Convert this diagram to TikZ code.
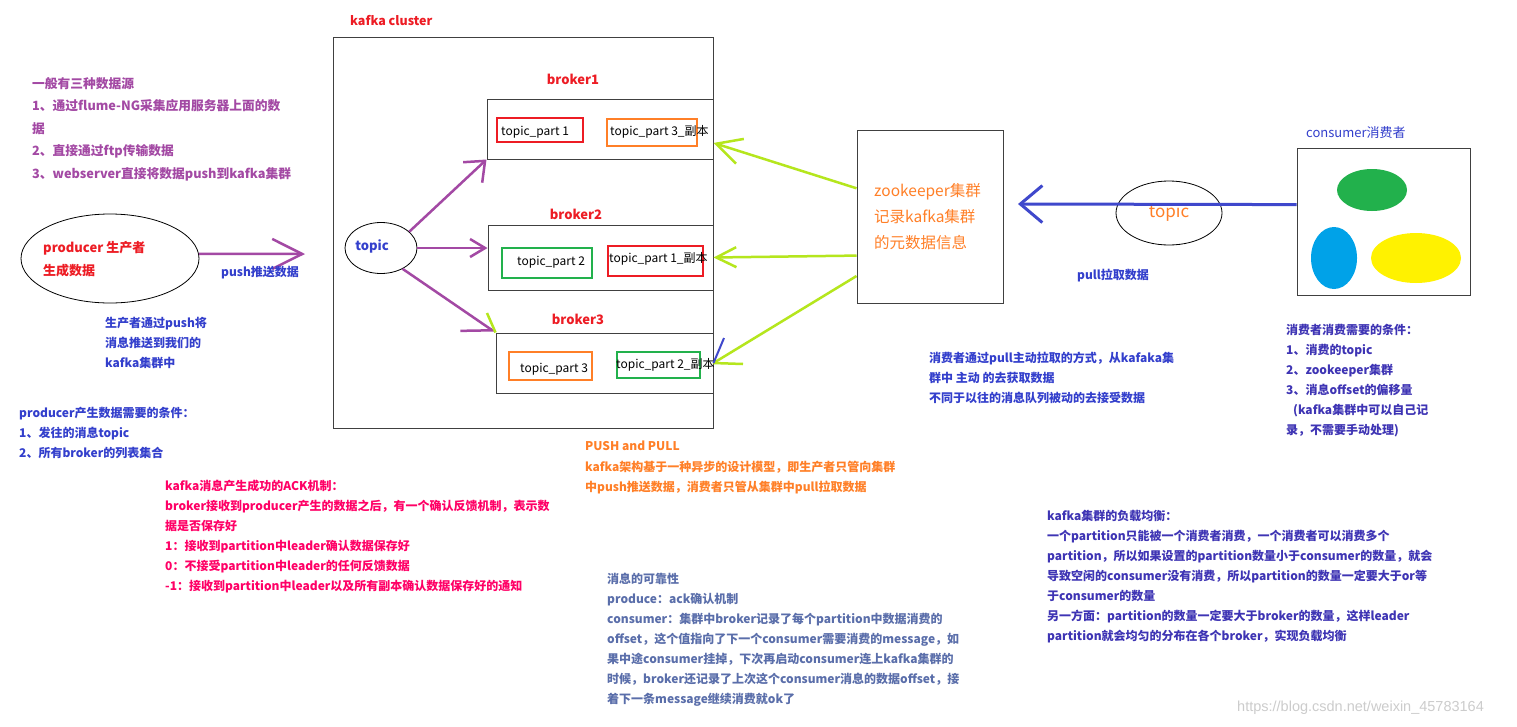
\documentclass[tikz,border=0pt]{standalone}
\usepackage{fontspec}
\setmainfont{Noto Sans CJK SC}
\newfontfamily\wmfont{Liberation Sans}
\usetikzlibrary{arrows.meta}
\usetikzlibrary{shapes.geometric}
\definecolor{kpurple}{RGB}{163,73,164}
\definecolor{kred}{RGB}{237,28,36}
\definecolor{korange}{RGB}{255,127,39}
\definecolor{kgreen}{RGB}{34,177,76}
\definecolor{klime}{RGB}{181,230,29}
\definecolor{kindigo}{RGB}{63,72,204}
\definecolor{kblue}{RGB}{51,63,204}
\definecolor{knavy}{RGB}{62,52,180}
\definecolor{kcyan}{RGB}{0,162,232}
\definecolor{kyellow}{RGB}{255,242,0}
\definecolor{kmagenta}{RGB}{255,0,102}
\definecolor{kslate}{RGB}{90,110,170}
\tikzset{boxline/.style={rectangle,draw=black!75,line width=1pt,inner sep=0pt}}
\tikzset{partbox/.style={rectangle,line width=2.5pt,inner sep=0pt}}
\tikzset{parttext/.style={anchor=west,inner sep=0pt,font=\fontsize{12}{14}\selectfont}}
\tikzset{title/.style={inner sep=0pt,text=kred,font=\bfseries\fontsize{13}{15}\selectfont}}
\tikzset{lab/.style={anchor=west,inner sep=0pt,font=\bfseries\fontsize{12}{15}\selectfont}}
\tikzset{note/.style={anchor=north west,inner sep=0pt,align=left,font=\bfseries\fontsize{12}{20}\selectfont}}
\tikzset{oval/.style={ellipse,draw,line width=0.8pt,inner sep=0pt}}
\tikzset{blob/.style={ellipse,draw=none,inner sep=0pt}}
\tikzset{purplearrow/.style={draw=kpurple,line width=2.5pt,-{Straight Barb[length=17pt,width=28pt]}}}
\tikzset{limearrow/.style={draw=klime,line width=2.5pt,-{Straight Barb[length=22pt,width=24pt]}}}
\tikzset{pullarrow/.style={draw=kindigo,line width=3pt,-{Straight Barb[length=22pt,width=37pt]}}}

\begin{document}
\begin{tikzpicture}[x=1pt,y=-1pt]
\useasboundingbox[fill=white] (0,0) rectangle (1517,726);

\node[note,text=kpurple,font=\bfseries\fontsize{12.75}{22.5}\selectfont] (srcs) at (32,77)
  {一般有三种数据源\\1、通过flume-NG采集应用服务器上面的数\\据\\2、直接通过ftp传输数据\\3、webserver直接将数据push到kafka集群};

\node[oval,minimum width=178,minimum height=89] (prod) at (110,258.5) {};
\node[note,text=kred,font=\bfseries\fontsize{13}{23}\selectfont] (prodtxt) at (43,241.5) {producer 生产者\\生成数据};
\coordinate (pushend) at (305,254);
\draw[purplearrow,-{Straight Barb[length=30pt,width=30pt]}] (prod.3) -- (pushend);
\node[lab,text=kblue] (pushlab) at (221,273) {push推送数据};

\node[note,text=kblue] (pushnote) at (105,316.5) {生产者通过push将\\消息推送到我们的\\kafka集群中};
\node[note,text=kblue] (prodcond) at (19,406.5) {producer产生数据需要的条件：\\1、发往的消息topic\\2、所有broker的列表集合};
\node[note,text=kmagenta] (ack) at (165,479.5)
  {kafka消息产生成功的ACK机制：\\broker接收到producer产生的数据之后，有一个确认反馈机制，表示数\\据是否保存好\\1：接收到partition中leader确认数据保存好\\0：不接受partition中leader的任何反馈数据\\-1：接收到partition中leader以及所有副本确认数据保存好的通知};

\node[boxline,minimum width=380,minimum height=391] (cl) at (523,232.5) {};
\node[title,anchor=west,font=\bfseries\fontsize{12.5}{15}\selectfont] (cltitle) at (350,21) {kafka cluster};

\node[boxline,minimum width=226,minimum height=60] (b1) at (600,129) {};
\node[boxline,minimum width=225,minimum height=65] (b2) at (600.5,257.5) {};
\node[boxline,minimum width=217,minimum height=60] (b3) at (604.5,363) {};
\node[title] (b1lab) at (573,79) {broker1};
\node[title] (b2lab) at (576,214) {broker2};
\node[title] (b3lab) at (578,319) {broker3};

\node[partbox,draw=kred,minimum width=86,minimum height=24] (p11) at (540,130) {};
\node[parttext] (p11txt) at (501,132) {topic\_part 1};
\node[partbox,draw=korange,minimum width=90,minimum height=27] (p13) at (652,132.5) {};
\node[parttext] (p13txt) at (610,132) {topic\_part 3\_副本};
\node[partbox,draw=kgreen,minimum width=90,minimum height=30] (p22) at (547,263) {};
\node[parttext] (p22txt) at (517,262) {topic\_part 2};
\node[partbox,draw=kred,minimum width=95,minimum height=30] (p21) at (655.5,261) {};
\node[parttext] (p21txt) at (609,259) {topic\_part 1\_副本};
\node[partbox,draw=korange,minimum width=83,minimum height=28] (p33) at (550.5,366) {};
\node[parttext] (p33txt) at (520,369) {topic\_part 3};
\node[partbox,draw=kgreen,minimum width=83,minimum height=26] (p32) at (658.5,365) {};
\node[parttext] (p32txt) at (616,365) {topic\_part 2\_副本};

\node[oval,minimum width=72,minimum height=51] (t) at (381,248) {};
\node[inner sep=0pt,text=kblue,font=\bfseries\fontsize{13}{15}\selectfont] (ttxt) at (372,246) {topic};
\draw[purplearrow] (t.30) -- (b1.south west);
\draw[purplearrow,-{Straight Barb[length=15pt,width=18pt]}] (t.east) -- (t.east -| b2.west);
\draw[purplearrow,-{Straight Barb[harpoon,swap,length=26pt,width=37pt]}] (t.-44) -- (b3.north west);
\coordinate (tick3) at (487,313);
\draw[klime,line width=2.5pt] (tick3) -- (b3.north west);

\node[boxline,minimum width=146,minimum height=173] (zk) at (930,216.5) {};
\node[note,text=korange,font=\fontsize{15.5}{26}\selectfont] (zktxt) at (874,183.5) {zookeeper集群\\记录kafka集群\\的元数据信息};
\draw[limearrow,-{Straight Barb[length=25pt,width=26pt]}] (zk.159) -- (b1.-7);
\draw[limearrow,-{Straight Barb[length=20pt,width=20pt]}] (zk.208) -- (b2.east);
\draw[klime,line width=2.5pt] (zk.219) -- (b3.east);
\coordinate (barb3) at (743,364);
\draw[klime,line width=2.5pt] (barb3) -- (b3.east);
\coordinate (tickb) at (724,338);
\draw[kindigo,line width=2pt] (tickb) -- (b3.east);

\node[lab,text=korange] (pp) at (585,446) {PUSH and PULL};
\node[note,text=korange] (ppnote) at (585,460.5) {kafka架构基于一种异步的设计模型，即生产者只管向集群\\中push推送数据，消费者只管从集群中pull拉取数据};

\node[note,text=kslate] (rel) at (607,572.5)
  {消息的可靠性\\produce：ack确认机制\\consumer：集群中broker记录了每个partition中数据消费的\\offset，这个值指向了下一个consumer需要消费的message，如\\果中途consumer挂掉，下次再启动consumer连上kafka集群的\\时候，broker还记录了上次这个consumer消息的数据offset，接\\着下一条message继续消费就ok了};

\node[boxline,minimum width=173,minimum height=147] (cons) at (1383.5,221.5) {};
\node[anchor=west,inner sep=0pt,text=kblue,font=\fontsize{13}{15}\selectfont] (conslab) at (1306,133) {consumer消费者};
\node[blob,fill=kgreen,minimum width=70,minimum height=42] (cg) at (1372,190) {};
\node[blob,fill=kcyan,minimum width=46,minimum height=62] (cb) at (1334,258) {};
\node[blob,fill=kyellow,minimum width=90,minimum height=50] (cy) at (1416,258) {};

\node[oval,minimum width=106,minimum height=64,text=korange,font=\fontsize{17}{19}\selectfont] (tc) at (1169,213) {topic};
\coordinate (pullend) at (1018,204);
\draw[pullarrow] (cons.169) -- (pullend);
\node[lab,text=kblue] (pulllab) at (1077,275) {pull拉取数据};

\node[note,text=kblue] (pullnote) at (929,351.5) {消费者通过pull主动拉取的方式，从kafaka集\\群中 主动 的去获取数据\\不同于以往的消息队列被动的去接受数据};
\node[note,text=knavy] (conscond) at (1286,324.5)
  {消费者消费需要的条件：\\1、消费的topic\\2、zookeeper集群\\3、消息offset的偏移量\\\hspace*{7pt}(kafka集群中可以自己记\\录，不需要手动处理)};
\node[note,text=knavy] (lb) at (1047,509.5)
  {kafka集群的负载均衡：\\一个partition只能被一个消费者消费，一个消费者可以消费多个\\partition，所以如果设置的partition数量小于consumer的数量，就会\\导致空闲的consumer没有消费，所以partition的数量一定要大于or等\\于consumer的数量\\另一方面：partition的数量一定要大于broker的数量，这样leader\\partition就会均匀的分布在各个broker，实现负载均衡};

\node[anchor=west,inner sep=0pt,text=black!20,font=\wmfont\fontsize{14.5}{17}\selectfont] (wm) at (1237,708) {https://blog.csdn.net/weixin\_45783164};
\end{tikzpicture}
\end{document}
